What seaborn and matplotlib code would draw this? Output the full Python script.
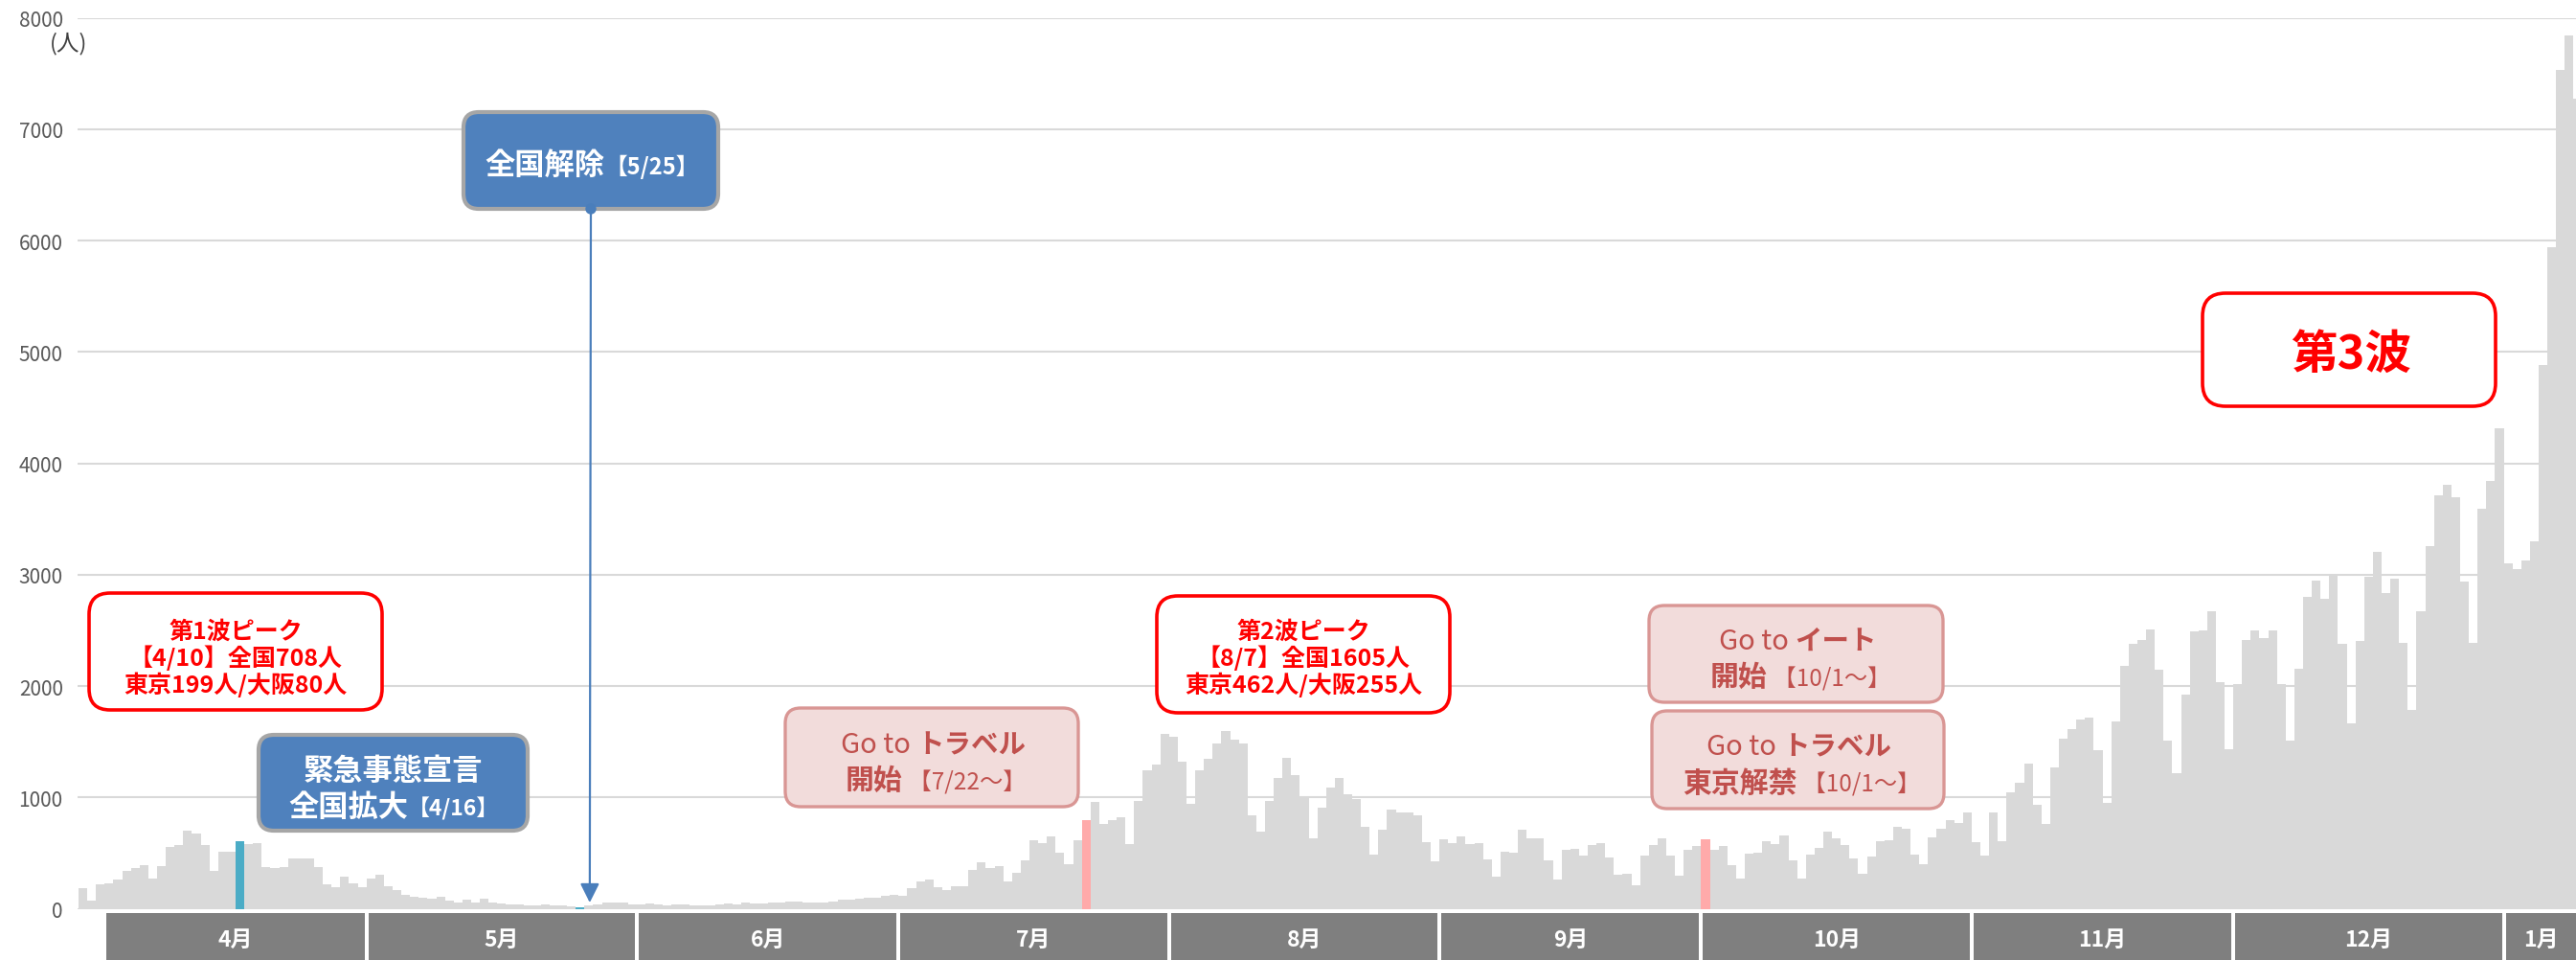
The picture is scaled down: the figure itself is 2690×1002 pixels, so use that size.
import numpy as np
import pandas as pd
import matplotlib
matplotlib.use("Agg")
import matplotlib.pyplot as plt
import matplotlib.transforms as mtransforms
from matplotlib.patches import FancyBboxPatch, Rectangle, Circle
import seaborn as sns

# ---------------- data (daily new cases, Japan) ----------------
start_date = "2020-03-29"
mar_vals = [187, 72, 216]
apr_vals = [224, 259, 339, 368, 388, 267, 379, 552, 575, 704,
            675, 569, 339, 511, 511, 603, 580, 589, 374, 368,
            374, 451, 451, 454, 374, 221, 193, 284, 224, 195]
may_vals = [267, 302, 201, 172, 121, 106, 101, 92, 109, 72,
            52, 80, 57, 90, 57, 49, 43, 40, 34, 34,
            37, 32, 29, 23, 17, 34, 43, 57, 57, 52, 43]
jun_vals = [43, 46, 37, 34, 37, 40, 32, 26, 34, 43,
            49, 43, 55, 49, 46, 60, 52, 66, 63, 57,
            57, 52, 63, 80, 86, 92, 103, 103, 118, 126]
jul_vals = [120, 187, 247, 259, 195, 172, 204, 204, 345, 420,
            368, 382, 244, 319, 437, 612, 589, 649, 506, 402,
            612, 793, 963, 763, 798, 825, 579, 969, 1240, 1296, 1572]
aug_vals = [1541, 1322, 938, 1240, 1348, 1480, 1592, 1520, 1486, 842,
            695, 969, 1175, 1356, 1200, 1015, 629, 905, 1085, 1178,
            1029, 986, 736, 489, 707, 891, 868, 862, 842, 598, 425]
sep_vals = [621, 589, 649, 583, 592, 443, 287, 511, 506, 707,
            635, 635, 434, 264, 526, 534, 477, 569, 592, 463,
            302, 316, 210, 474, 569, 632, 474, 296, 526, 563]
oct_vals = [621, 532, 560, 391, 267, 497, 506, 610, 585, 662,
            432, 272, 487, 549, 695, 631, 573, 450, 312, 471,
            610, 616, 739, 717, 487, 401, 641, 717, 794, 769, 861]
nov_vals = [601, 478, 861, 610, 1049, 1132, 1301, 932, 764, 1270,
            1531, 1617, 1700, 1716, 1421, 948, 1685, 2177, 2376, 2416,
            2505, 2146, 1510, 1215, 1924, 2493, 2500, 2668, 2037, 1432]
dec_vals = [2021, 2416, 2500, 2432, 2500, 2021, 1511, 2153, 2800, 2947,
            2779, 3000, 2379, 1668, 2405, 2984, 3205, 2837, 2968, 2389,
            1784, 2668, 3258, 3711, 3811, 3695, 2942, 2389, 3589, 3842, 4316]
jan_vals = [3105, 3053, 3126, 3300, 4879, 5942, 7532, 7842, 7274]

teal_dates = ["2020-04-16", "2020-05-25"]
pink_dates = ["2020-07-22", "2020-10-01"]
month_labels = ["4月", "5月", "6月", "7月", "8月", "9月", "10月", "11月", "12月", "1月"]
y_ticks = [0, 1000, 2000, 3000, 4000, 5000, 6000, 7000, 8000]

values = (mar_vals + apr_vals + may_vals + jun_vals + jul_vals + aug_vals +
          sep_vals + oct_vals + nov_vals + dec_vals + jan_vals)
dates = pd.date_range(start_date, periods=len(values))
kinds = np.where(dates.isin(pd.to_datetime(teal_dates)), "teal",
                 np.where(dates.isin(pd.to_datetime(pink_dates)), "pink", "base"))
df = pd.DataFrame({"day": np.arange(len(values)), "cases": values, "kind": kinds})
palette = {"base": "#d9d9d9", "teal": "#4bacc6", "pink": "#ffaaaa"}

# ---------------- figure ----------------
sns.set_style("white")
plt.rcParams["font.family"] = ["Noto Sans CJK JP", "DejaVu Sans"]

W, H = 2690, 1003
fig = plt.figure(figsize=(W / 100, H / 100), dpi=100)
fig.patch.set_facecolor("white")
ax_bottom_px, ax_top_px, ax_left_px = 949.5, 19.6, 81
ax = fig.add_axes([ax_left_px / W, (H - ax_bottom_px) / H,
                   (W - ax_left_px) / W, (ax_bottom_px - ax_top_px) / H])

sns.barplot(data=df, x="day", y="cases", hue="kind", palette=palette,
            dodge=False, width=1.0, linewidth=0, saturation=1,
            errorbar=None, legend=False, ax=ax)

x_right = 285.78
ax.set_xlim(-0.61, x_right)
ax.set_ylim(0, 8000)
ax.set_yticks(y_ticks)
ax.set_yticklabels([str(v) for v in y_ticks])
ax.tick_params(axis="y", length=0, pad=11, labelsize=15, labelcolor="#595959")
ax.set_xticks([])
ax.set_xlabel("")
ax.set_ylabel("")
for s in ax.spines.values():
    s.set_visible(False)
ax.yaxis.grid(True, color="#d9d9d9", lw=1.5)
ax.xaxis.grid(False)
ax.set_axisbelow(True)

# month boxes below the axis
ax_h = ax_bottom_px - ax_top_px
blend = mtransforms.blended_transform_factory(ax.transData, ax.transAxes)
y_top = -(954 - ax_bottom_px) / ax_h
y_bot = -(H + 5 - ax_bottom_px) / ax_h
y_txt = -(981 - ax_bottom_px) / ax_h
starts = [i - 0.5 for i, d in enumerate(dates) if d.day == 1]
bounds = starts + [x_right + 1]
gap = 2.0 / 9.11
for i, lab in enumerate(month_labels):
    x0 = bounds[i] + gap
    x1 = bounds[i + 1] - gap
    ax.add_patch(Rectangle((x0, y_bot), x1 - x0, y_top - y_bot, transform=blend,
                           facecolor="#7f7f7f", edgecolor="none", clip_on=False))
    xc = (x0 + min(x1, x_right)) / 2
    ax.text(xc, y_txt, lab, transform=blend, ha="center", va="center",
            color="white", fontsize=16.5, fontweight="bold", clip_on=False)

# ---------------- overlay (pixel coordinates) ----------------
oax = fig.add_axes([0, 0, 1, 1], zorder=5)
oax.set_xlim(0, W)
oax.set_ylim(H, 0)
oax.axis("off")
oax.patch.set_alpha(0)

renderer = fig.canvas.get_renderer()


def rbox(x0, y0, x1, y1, fc, ec, lw, r):
    oax.add_patch(FancyBboxPatch((x0, y0), x1 - x0, y1 - y0,
                                 boxstyle=f"round,pad=0,rounding_size={r}",
                                 fc=fc, ec=ec, lw=lw))


def rich_line(pieces, cx, cy):
    texts = []
    big = max(p[1] for p in pieces)
    base = cy + 0.38 * big * 100 / 72
    for s, size, weight, color in pieces:
        t = oax.text(0, base, s, fontsize=size, fontweight=weight, color=color,
                     ha="left", va="baseline")
        texts.append(t)
    widths = [t.get_window_extent(renderer).width for t in texts]
    x = cx - sum(widths) / 2
    for t, w in zip(texts, widths):
        t.set_x(x)
        x += w


RED = "#ff0000"
PINK_FC, PINK_EC, PINK_TX = "#f2dcdb", "#d99694", "#c0504d"
BLUE_FC, BLUE_EC = "#4f81bd", "#a6a6a6"

# unit label
oax.text(72, 46, "(人)", ha="center", va="center", fontsize=17, color="#404040")

# first wave peak
rbox(93, 620, 399, 742, "white", RED, 2.6, 22)
for txt, cy in [("第1波ピーク", 657), ("【4/10】全国708人", 685), ("東京199人/大阪80人", 713)]:
    rich_line([(txt, 18, "bold", RED)], 246, cy)

# second wave peak
rbox(1208, 623, 1514, 745, "white", RED, 2.6, 22)
for txt, cy in [("第2波ピーク", 657), ("【8/7】全国1605人", 685), ("東京462人/大阪255人", 713)]:
    rich_line([(txt, 18, "bold", RED)], 1361, cy)

# third wave
rbox(2300, 307, 2606, 425, "white", RED, 2.6, 24)
rich_line([("第3波", 35, "bold", RED)], 2455, 366)

# emergency declaration expansion
rbox(270, 768, 551, 868, BLUE_FC, BLUE_EC, 3, 16)
rich_line([("緊急事態宣言", 22.5, "bold", "white")], 410, 802)
rich_line([("全国拡大", 22.5, "bold", "white"), ("【4/16】", 16.5, "bold", "white")], 411, 840)

# nationwide lifting with arrow
rbox(484, 118, 750, 219, BLUE_FC, BLUE_EC, 3, 16)
rich_line([("全国解除", 22.5, "bold", "white"), ("【5/25】", 17, "bold", "white")], 618, 170)
ax.annotate("", xy=(58.1, 55), xycoords="data", xytext=(617, 219),
            textcoords=oax.transData, annotation_clip=False,
            arrowprops=dict(arrowstyle="-|>", color="#4a7ebb", lw=1.6,
                            mutation_scale=30, shrinkA=0, shrinkB=0))
oax.add_patch(Circle((617, 219), 5, color="#4a7ebb"))

# Go to travel start
rbox(820, 740, 1126, 843, PINK_FC, PINK_EC, 2.4, 16)
rich_line([("Go to ", 21, "normal", PINK_TX), ("トラベル", 20.5, "bold", PINK_TX)], 975, 775)
rich_line([("開始", 21.5, "bold", PINK_TX), (" 【7/22～】", 17.5, "normal", PINK_TX)], 977, 813)

# Go to eat
rbox(1722, 633, 2029, 734, PINK_FC, PINK_EC, 2.4, 16)
rich_line([("Go to ", 21, "normal", PINK_TX), ("イート", 20.5, "bold", PINK_TX)], 1877, 667)
rich_line([("開始", 21.5, "bold", PINK_TX), (" 【10/1～】", 17.5, "normal", PINK_TX)], 1880, 705)

# Go to travel Tokyo
rbox(1725, 743, 2030, 845, PINK_FC, PINK_EC, 2.4, 16)
rich_line([("Go to ", 21, "normal", PINK_TX), ("トラベル", 20.5, "bold", PINK_TX)], 1879, 777)
rich_line([("東京解禁", 21.5, "bold", PINK_TX), (" 【10/1～】", 17.5, "normal", PINK_TX)], 1881, 815)

fig.savefig("out.png", dpi=100, facecolor="white")
